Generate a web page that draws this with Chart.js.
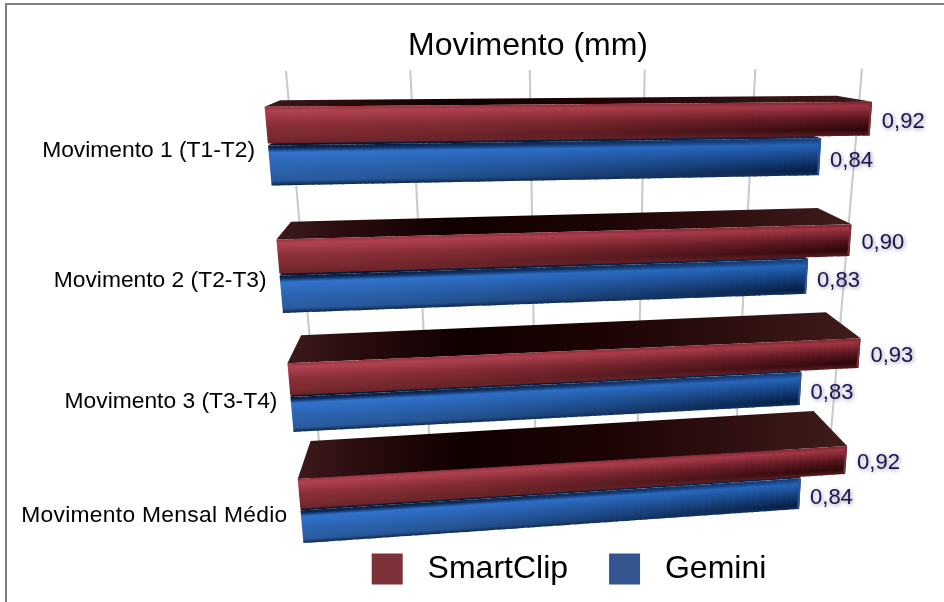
<!DOCTYPE html>
<html>
<head>
<meta charset="utf-8">
<script src="https://cdn.jsdelivr.net/npm/chart.js@4"></script>
<style>
  html, body { margin: 0; padding: 0; background: #fff; }
  #frame { position: absolute; left: 5px; top: 3px; width: 939px; height: 599px; box-sizing: border-box;
           border-left: 2px solid #808080; border-top: 2px solid #808080; }
  canvas { position: absolute; left: 0; top: 0; }
</style>
</head>
<body>
<div id="frame"></div>
<canvas id="chart" width="944" height="602"></canvas>
<script>
const categories = [
  "Movimento 1 (T1-T2)",
  "Movimento 2 (T2-T3)",
  "Movimento 3 (T3-T4)",
  "Movimento Mensal Médio",
];
const smartClip = [0.92, 0.9, 0.93, 0.92];
const gemini = [0.84, 0.83, 0.83, 0.84];

const FONT = '"Liberation Sans", Helvetica, Arial, sans-serif';

// Perspective of the front plane: where the chart area lands on screen
const CAL_U = 0.92;
const viewCorners = [[268, 145.5], [869.5, 137.5], [845, 475.5], [300.5, 510.5]];
const VANISH = [450, 30]; // depth lines meet here
const TOP_DEPTH = 0.0845; // depth of the bars
const WALL_DEPTH = 0.128; // depth of the back wall with the grid

function makeProjection(p) {
  const dx1 = p[1][0] - p[2][0], dx2 = p[3][0] - p[2][0], sx = p[0][0] - p[1][0] + p[2][0] - p[3][0];
  const dy1 = p[1][1] - p[2][1], dy2 = p[3][1] - p[2][1], sy = p[0][1] - p[1][1] + p[2][1] - p[3][1];
  const den = dx1 * dy2 - dx2 * dy1;
  const g = (sx * dy2 - dx2 * sy) / den;
  const h = (dx1 * sy - sx * dy1) / den;
  const a = p[1][0] - p[0][0] + g * p[1][0], b = p[3][0] - p[0][0] + h * p[3][0], c = p[0][0];
  const d = p[1][1] - p[0][1] + g * p[1][1], e = p[3][1] - p[0][1] + h * p[3][1], f = p[0][1];
  return function (s, t) {
    const q = g * s + h * t + 1;
    return [(a * s + b * t + c) / q, (d * s + e * t + f) / q];
  };
}
const toScreen = makeProjection(viewCorners);

// chart pixel -> screen pixel
function project(chart, x, y) {
  const area = chart.chartArea;
  const u = (x - area.left) / area.width;
  const w = (y - area.top) / area.height;
  return toScreen(u / CAL_U, (w - 0.125) / 0.75);
}
function push(p, k) {
  return [p[0] + (VANISH[0] - p[0]) * k, p[1] + (VANISH[1] - p[1]) * k];
}

function hex(c) {
  return [parseInt(c.slice(1, 3), 16), parseInt(c.slice(3, 5), 16), parseInt(c.slice(5, 7), 16)];
}
function mix(a, b, k) {
  const x = hex(a), y = hex(b);
  return "rgb(" + x.map((v, i) => Math.round(v + (y[i] - v) * k)).join(",") + ")";
}

// shading across the bar: near the axis and at the bar end
const faceStyles = [
  {
    stops: [0, 0.12, 0.5, 0.82, 1],
    start: ["#98323d", "#b04352", "#8a2e37", "#7a2a30", "#692328"],
    end: ["#7a2630", "#a03342", "#54141c", "#2a0508", "#5a1c22"],
    edge: "#7a2e36",
  },
  {
    stops: [0, 0.08, 0.18, 0.55, 0.88, 1],
    start: ["#081a3a", "#0f2c5c", "#3072cc", "#2c64b0", "#2a5a9c", "#0c2850"],
    end: ["#163c7a", "#1c4c94", "#2462b4", "#123c78", "#041c40", "#123468"],
    edge: "#2d5496",
  },
];
const roofStops = [
  [
    [0, "#3c1a1c"], [0.12, "#2a0c0e"], [0.3, "#100000"], [0.55, "#1c0404"], [0.8, "#301010"], [1, "#401c1c"],
  ],
  [
    [0, "#061630"], [1, "#0a2448"],
  ],
];

function drawFace(ctx, tl, tr, br, bl, style) {
  const slices = Math.ceil((tr[0] - tl[0]) / 6);
  for (let i = 0; i < slices; i++) {
    const k0 = i / slices;
    const k1 = Math.min(1, (i + 1.2) / slices);
    const lerp = (p, q, k) => [p[0] + (q[0] - p[0]) * k, p[1] + (q[1] - p[1]) * k];
    const a = lerp(tl, tr, k0), b = lerp(tl, tr, k1), c = lerp(bl, br, k1), d = lerp(bl, br, k0);
    const grad = ctx.createLinearGradient(a[0], a[1], d[0], d[1]);
    const k = Math.pow(k0, 1.6);
    style.stops.forEach((s, j) => grad.addColorStop(s, mix(style.start[j], style.end[j], k)));
    ctx.fillStyle = grad;
    ctx.beginPath();
    ctx.moveTo(a[0], a[1]);
    ctx.lineTo(b[0], b[1]);
    ctx.lineTo(c[0], c[1]);
    ctx.lineTo(d[0], d[1]);
    ctx.closePath();
    ctx.fill();
  }
  // bevel at the bar end
  ctx.strokeStyle = style.edge;
  ctx.lineWidth = 2;
  ctx.lineJoin = "round";
  ctx.beginPath();
  ctx.moveTo(tr[0] - 1, tr[1] + 1);
  ctx.lineTo(br[0] - 1, br[1] - 1);
  ctx.stroke();
}

function drawRoof(ctx, tl, tr, stops) {
  const bl = push(tl, TOP_DEPTH), br = push(tr, TOP_DEPTH);
  const grad = ctx.createLinearGradient(tl[0], 0, tr[0], 0);
  stops.forEach((s) => grad.addColorStop(s[0], s[1]));
  ctx.fillStyle = grad;
  ctx.beginPath();
  ctx.moveTo(tl[0], tl[1]);
  ctx.lineTo(bl[0], bl[1]);
  ctx.lineTo(br[0], br[1]);
  ctx.lineTo(tr[0], tr[1]);
  ctx.closePath();
  ctx.fill();
}

const perspectiveBars = {
  id: "perspectiveBars",
  afterLayout(chart) {
    // legend sits right of the chart centre, under the bars
    const legend = chart.legend;
    legend.left += 41;
    legend.right += 41;
    legend.top = 512;
    legend.bottom = 602;
  },
  beforeDatasetsDraw(chart) {
    const ctx = chart.ctx;
    const area = chart.chartArea;
    const xScale = chart.scales.x;
    const yTop = area.top;
    const yEnd = area.top + area.height * 0.98;

    ctx.save();

    // grid on the back wall
    ctx.strokeStyle = "#c9c9c9";
    ctx.lineWidth = 2;
    xScale.ticks.forEach((tick) => {
      const x = xScale.getPixelForValue(tick.value);
      const a = push(project(chart, x, yTop), WALL_DEPTH);
      const b = push(project(chart, x, yEnd), WALL_DEPTH);
      ctx.beginPath();
      ctx.moveTo(a[0], a[1]);
      ctx.lineTo(b[0], b[1]);
      ctx.stroke();
    });

    const metas = [chart.getDatasetMeta(0), chart.getDatasetMeta(1)];
    categories.forEach((label, row) => {
      // blue first, red with its roof over it
      [1, 0].forEach((ds) => {
        const bar = metas[ds].data[row].getProps(["x", "y", "base", "height"], true);
        const top = bar.y - bar.height / 2, bottom = bar.y + bar.height / 2;
        const tl = project(chart, bar.base, top), tr = project(chart, bar.x, top);
        const br = project(chart, bar.x, bottom), bl = project(chart, bar.base, bottom);
        drawRoof(ctx, tl, tr, roofStops[ds]);
        drawFace(ctx, tl, tr, br, bl, faceStyles[ds]);
      });
    });

    // value labels, comma decimals
    ctx.textBaseline = "middle";
    ctx.textAlign = "left";
    ctx.font = "22px " + FONT;
    categories.forEach((label, row) => {
      [0, 1].forEach((ds) => {
        const bar = metas[ds].data[row].getProps(["x", "y"], true);
        const end = project(chart, bar.x, bar.y);
        const value = chart.data.datasets[ds].data[row];
        ctx.save();
        ctx.shadowColor = "rgba(50,50,90,0.55)";
        ctx.shadowBlur = 4;
        ctx.shadowOffsetX = 1;
        ctx.shadowOffsetY = 1;
        ctx.fillStyle = "#1b1350";
        ctx.fillText(value.toFixed(2).replace(".", ","), end[0] + (ds === 0 ? 11 : 10), end[1] + (ds === 0 ? 3 : 4));
        ctx.restore();
      });
    });

    // category labels follow the slanted axis
    ctx.textAlign = "right";
    ctx.fillStyle = "#000";
    ctx.font = "22.8px " + FONT;
    const yAxis = chart.scales.y;
    categories.forEach((label, row) => {
      const p = project(chart, area.left, yAxis.getPixelForValue(row));
      ctx.letterSpacing = row === 3 ? "0.3px" : "0px";
      ctx.fillText(label, p[0] - 13, p[1] + 5);
    });

    ctx.restore();
    return false;
  },
};

new Chart(document.getElementById("chart"), {
  type: "bar",
  data: {
    labels: categories,
    datasets: [
      { label: "SmartClip", data: smartClip, backgroundColor: "#7d3239", barPercentage: 0.9 },
      { label: "Gemini", data: gemini, backgroundColor: "#34558f", barPercentage: 1 },
    ],
  },
  options: {
    indexAxis: "y",
    responsive: false,
    animation: false,
    events: [],
    datasets: { bar: { categoryPercentage: 0.6 } },
    layout: { padding: { left: 112, right: 8, top: 27, bottom: 10 } },
    scales: {
      x: {
        min: 0,
        max: 1,
        ticks: { stepSize: 0.2, display: false },
        grid: { display: false },
        border: { display: false },
      },
      y: {
        ticks: { display: false },
        grid: { display: false },
        border: { display: false },
      },
    },
    plugins: {
      title: {
        display: true,
        text: "Movimento (mm)",
        color: "#000",
        fullSize: false,
        font: { family: FONT, size: 32, weight: "normal" },
        padding: { top: 0, bottom: 4 },
      },
      legend: {
        position: "bottom",
        fullSize: false,
        labels: {
          color: "#000",
          font: { family: FONT, size: 32 },
          boxWidth: 31,
          boxHeight: 31,
          padding: 41,
          generateLabels(chart) {
            return Chart.defaults.plugins.legend.labels.generateLabels(chart).map((item) => {
              item.text = " " + item.text;
              item.lineWidth = 0;
              return item;
            });
          },
        },
      },
      tooltip: { enabled: false },
    },
  },
  plugins: [perspectiveBars],
});
</script>
</body>
</html>
